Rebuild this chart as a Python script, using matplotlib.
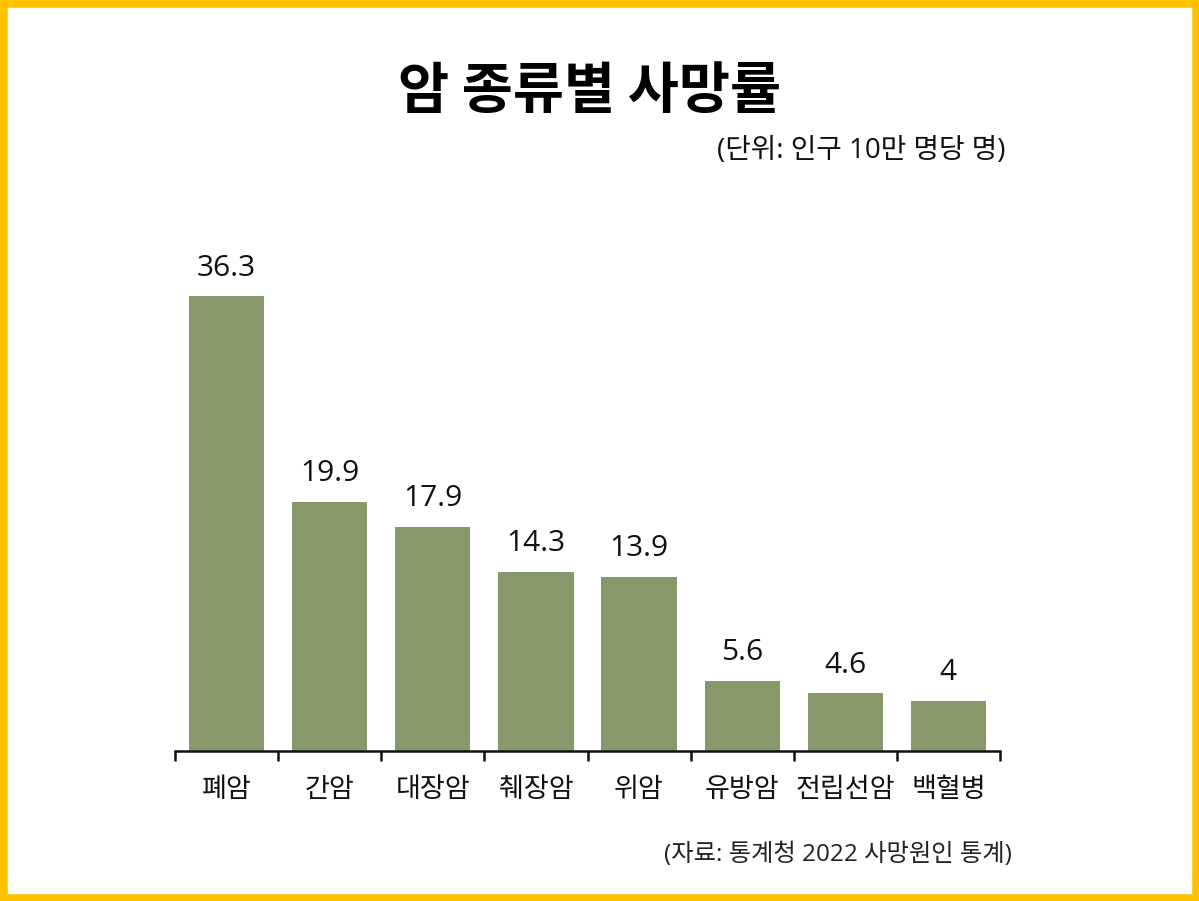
import matplotlib
matplotlib.use('Agg')
import matplotlib.pyplot as plt
from matplotlib.patches import Rectangle

plt.rcParams['font.family'] = ['Open Sans', 'Noto Sans CJK KR', 'DejaVu Sans']

categories = ['폐암', '간암', '대장암', '췌장암', '위암', '유방암', '전립선암', '백혈병']
values = [36.3, 19.9, 17.9, 14.3, 13.9, 5.6, 4.6, 4]
value_labels = ['36.3', '19.9', '17.9', '14.3', '13.9', '5.6', '4.6', '4']

title = '암 종류별 사망률'
unit_text = '(단위: 인구 10만 명당 명)'
source_text = '(자료: 통계청 2022 사망원인 통계)'

bar_color = '#87996b'
border_color = '#ffc000'

fig = plt.figure(figsize=(11.99, 9.01), dpi=100)
fig.patch.set_facecolor('white')

# yellow frame, half of the line falls outside the canvas
fig.patches.append(Rectangle((0, 0), 1, 1, transform=fig.transFigure,
                             fill=False, edgecolor=border_color, linewidth=10.5))

ax = fig.add_axes([0.146, 0.1665, 0.688, 0.6115])
x = list(range(len(categories)))
ax.bar(x, values, width=0.73, color=bar_color)

for xi, v, lab in zip(x, values, value_labels):
    ax.text(xi, v + 1.1, lab, ha='center', va='bottom', fontsize=21.5, color='#111111')

ax.set_xlim(-0.5, len(categories) - 0.5)
ax.set_ylim(0, 44)

for side in ['top', 'right', 'left']:
    ax.spines[side].set_visible(False)
ax.spines['bottom'].set_linewidth(1.8)
ax.spines['bottom'].set_color('#111111')
ax.set_yticks([])

# ticks sit between the categories, labels in the middle
ax.set_xticks([i - 0.5 for i in range(len(categories) + 1)])
ax.set_xticklabels([])
ax.tick_params(axis='x', which='major', length=7, width=1.8, direction='out', color='#111111')
ax.set_xticks(x, minor=True)
ax.set_xticklabels(categories, minor=True, fontsize=19.5, color='#111111',
                   family=['Noto Sans CJK KR', 'DejaVu Sans'])
ax.tick_params(axis='x', which='minor', length=0, pad=18)

fig.text(0.492, 0.898, title, ha='center', va='center', fontsize=40, fontweight='bold',
         color='#000000', family=['Noto Sans CJK KR', 'DejaVu Sans'])
fig.text(0.839, 0.832, unit_text, ha='right', va='center', fontsize=20, color='#111111')
fig.text(0.844, 0.051, source_text, ha='right', va='center', fontsize=17.5, color='#222222')

fig.savefig('out.png', dpi=100)
